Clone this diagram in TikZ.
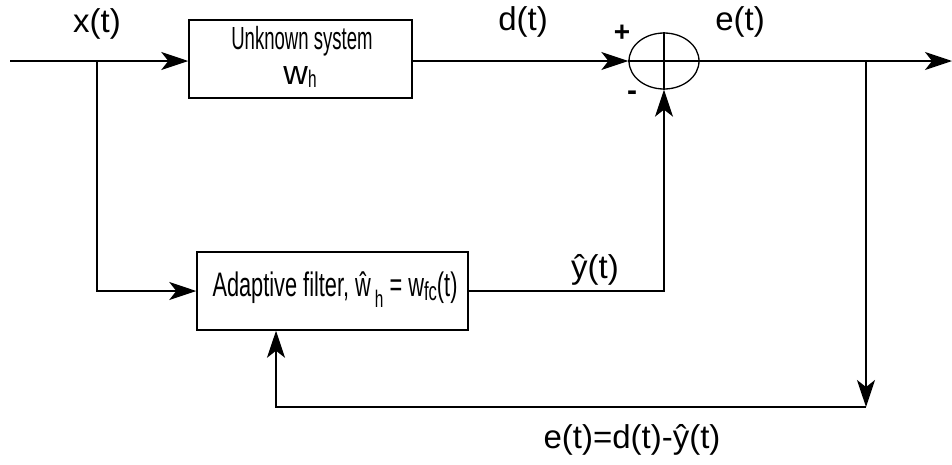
\documentclass[tikz,border=0pt]{standalone}
\usepackage{fontspec}
\setmainfont{Liberation Sans}
\newfontfamily\narrowfont[FakeStretch=0.58]{Liberation Sans}
\newfontfamily\semifont[FakeStretch=0.64]{Liberation Sans}
\usetikzlibrary{arrows.meta,shapes.geometric}
\tikzset{
  wire/.style={line width=1.6pt},
  arr/.style={wire,-{Stealth[length=27pt,width=18pt,inset=7pt]}},
  blockbox/.style={draw,line width=1.5pt,inner sep=0pt},
  lbl/.style={font=\fontsize{33}{36}\selectfont,inner sep=0pt},
  boxtxt/.style={inner sep=0pt,align=center},
}
\begin{document}
\begin{tikzpicture}[x=1pt,y=-1pt]
\useasboundingbox (0,0) rectangle (952,464);
% blocks
\node[blockbox,minimum width=223pt,minimum height=78pt] (u) at (300.5,59) {};
\node[boxtxt,font=\narrowfont\fontsize{32}{34}\selectfont] (ut) at (302,41) {Unknown system};
\node[inner sep=0pt,font=\fontsize{34}{36}\selectfont] (uw) at (300,77) {w{\semifont\fontsize{24}{26}\selectfont\raisebox{-3pt}{h}}};
\node[blockbox,minimum width=271pt,minimum height=78pt] (a) at (332.5,291) {};
\node[boxtxt,font=\semifont\fontsize{34}{36}\selectfont] (at) at (335,290) {Adaptive filter, ŵ\raisebox{-11pt}{\fontsize{24}{26}\selectfont\,h} = w\raisebox{-4pt}{\fontsize{26}{28}\selectfont fc}(t)};
\node[ellipse,draw,line width=1.3pt,minimum width=70pt,minimum height=56pt,inner sep=0pt] (sum) at (664,61) {};
\draw[line width=1.3pt] (sum.north) -- (sum.south);
% coordinates
\coordinate (in) at (10,61);
\coordinate (j1) at (97,61);
\coordinate (j2) at (866,61);
\coordinate (j3) at (866,407);
\coordinate (fb) at (276,407);
\coordinate (out) at (952,61);
% connectors
\draw[arr] (in) -- (u.west |- in);
\draw[arr] (j1) |- (a.west);
\draw[arr] (u.east |- in) -- (sum.west);
\draw[arr] (sum.west) -- (out);
\draw[arr] (j2) -- (j3);
\draw[arr] (j3) -- (fb) -- (fb |- a.south);
\draw[arr] (a.east) -| (sum.south);
% labels
\node[lbl] (xl) at (97,24) {x(t)};
\node[lbl] (dl) at (523,22) {d(t)};
\node[lbl] (el) at (740,22) {e(t)};
\node[lbl] (yl) at (595,270) {ŷ(t)};
\node[lbl] (fl) at (632,440) {e(t)=d(t)-ŷ(t)};
\node[inner sep=0pt,font=\bfseries\fontsize{28}{30}\selectfont] (plus) at (622,33) {+};
\node[inner sep=0pt,font=\bfseries\fontsize{30}{30}\selectfont] (minus) at (632,96) {-};
\end{tikzpicture}
\end{document}
